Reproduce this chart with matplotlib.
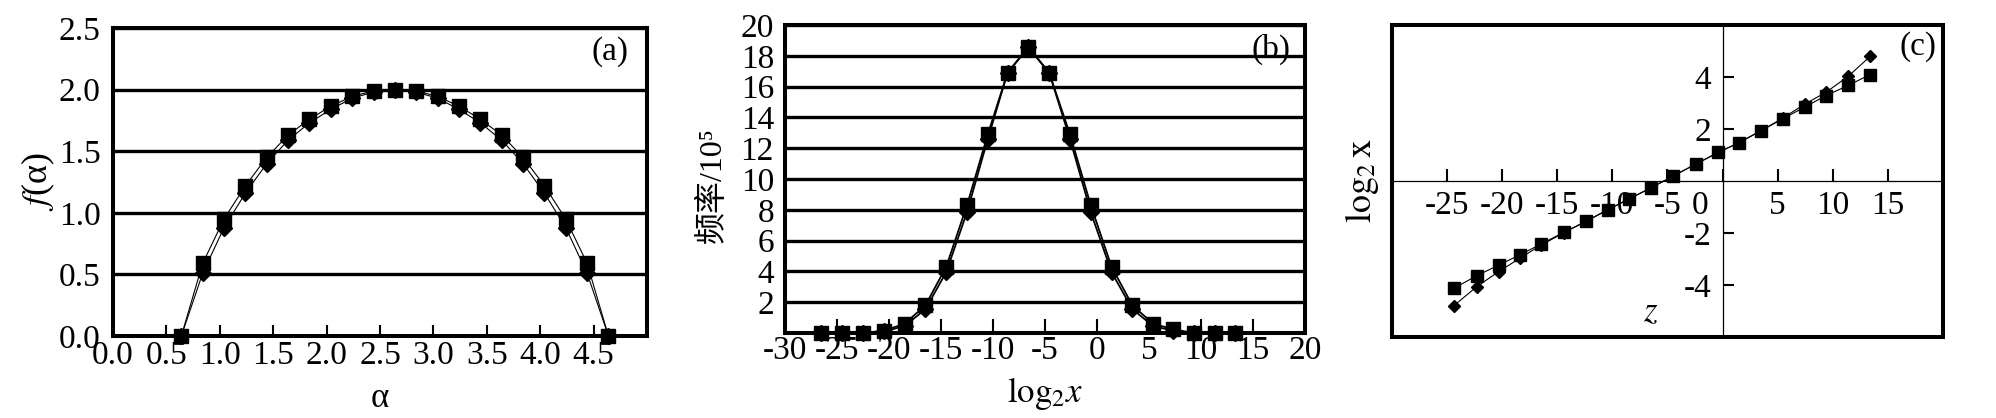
import matplotlib
matplotlib.use('Agg')
import matplotlib.pyplot as plt
from matplotlib.patches import Rectangle

plt.rcParams['font.family'] = ['Liberation Serif', 'DejaVu Serif', 'Noto Sans CJK SC']
plt.rcParams['mathtext.fontset'] = 'stix'
plt.rcParams['axes.unicode_minus'] = False

# ---------------- data ----------------
# (a) multifractal spectrum
alpha = [0.64, 0.84, 1.04, 1.24, 1.44, 1.64, 1.84, 2.04, 2.24, 2.44, 2.64,
         2.84, 3.04, 3.24, 3.44, 3.64, 3.84, 4.04, 4.24, 4.44, 4.64]
f_sq = [0.0, 0.59, 0.95, 1.22, 1.45, 1.63, 1.76, 1.865, 1.945, 1.99, 2.0,
        1.99, 1.945, 1.865, 1.76, 1.63, 1.45, 1.22, 0.95, 0.59, 0.0]
f_dm = [0.0, 0.51, 0.88, 1.16, 1.40, 1.59, 1.73, 1.84, 1.93, 1.98, 2.0,
        1.98, 1.93, 1.84, 1.73, 1.59, 1.40, 1.16, 0.88, 0.51, 0.0]
a_xticks = [0.0, 0.5, 1.0, 1.5, 2.0, 2.5, 3.0, 3.5, 4.0, 4.5]
a_xlabels = ['0.0', '0.5', '1.0', '1.5', '2.0', '2.5', '3.0', '3.5', '4.0', '4.5']
a_yticks = [0.0, 0.5, 1.0, 1.5, 2.0, 2.5]
a_ylabels = ['0.0', '0.5', '1.0', '1.5', '2.0', '2.5']

# (b) frequency histogram
log2x = [-26.5, -24.5, -22.5, -20.5, -18.5, -16.5, -14.5, -12.5, -10.5, -8.6, -6.6,
         -4.6, -2.6, -0.6, 1.4, 3.4, 5.4, 7.3, 9.3, 11.3, 13.3]
freq_sq = [0.0, 0.0, 0.0, 0.15, 0.6, 1.8, 4.3, 8.3, 12.9, 16.9, 18.55,
           16.9, 12.9, 8.3, 4.3, 1.8, 0.6, 0.25, 0.0, 0.0, 0.0]
freq_dm = [0.0, 0.0, 0.0, 0.1, 0.45, 1.55, 3.95, 7.85, 12.6, 16.9, 18.55,
           16.9, 12.6, 7.85, 3.95, 1.55, 0.45, 0.15, 0.0, 0.0, 0.0]
b_xticks = [-30, -25, -20, -15, -10, -5, 0, 5, 10, 15, 20]
b_xlabels = ['-30', '-25', '-20', '-15', '-10', '-5', '0', '5', '10', '15', '20']
b_yticks = [2, 4, 6, 8, 10, 12, 14, 16, 18, 20]
b_ylabels = ['2', '4', '6', '8', '10', '12', '14', '16', '18', '20']

# (c) log2 x versus z
z = [-24.4, -22.3, -20.3, -18.4, -16.5, -14.4, -12.4, -10.4, -8.5, -6.5,
     -4.5, -2.45, -0.4, 1.5, 3.5, 5.45, 7.5, 9.4, 11.4, 13.4]
c_sq = [-4.13, -3.64, -3.23, -2.84, -2.43, -1.97, -1.55, -1.10, -0.69, -0.26,
        0.19, 0.65, 1.10, 1.48, 1.94, 2.39, 2.86, 3.29, 3.68, 4.10]
c_dm = [-4.80, -4.06, -3.48, -2.97, -2.47, -1.99, -1.55, -1.10, -0.69, -0.26,
        0.19, 0.65, 1.10, 1.48, 1.94, 2.42, 2.97, 3.42, 4.03, 4.80]
c_xticks = [-25, -20, -15, -10, -5, 0, 5, 10, 15]
c_xlabels = ['-25', '-20', '-15', '-10', '-5', '', '5', '10', '15']
c_yticks = [-4, -2, 2, 4]
c_ylabels = ['-4', '-2', '2', '4']

TICK_FS = 24
LABEL_FS = 25

fig = plt.figure(figsize=(19.96, 4.18), dpi=100)

# ---------------- panel (a) ----------------
axa = fig.add_axes([0.0566, 0.196, 0.2675, 0.737])
axa.set_xlim(0, 5)
axa.set_ylim(0, 2.5)
axa.grid(axis='y', color='black', lw=2.4)
axa.set_axisbelow(True)
axa.plot(alpha, f_dm, color='black', lw=0.8, marker='D', ms=8, clip_on=False, zorder=3)
axa.plot(alpha, f_sq, color='black', lw=0.8, marker='s', ms=9.5, clip_on=False, zorder=4)
axa.set_xticks(a_xticks, a_xlabels, fontsize=TICK_FS)
axa.set_yticks(a_yticks, a_ylabels, fontsize=TICK_FS)
axa.tick_params(axis='x', direction='in', length=8, width=1.5, pad=3)
axa.tick_params(axis='y', length=0, pad=9)
for s in axa.spines.values():
    s.set_linewidth(2.9)
axa.set_xlabel('α', fontsize=LABEL_FS)
axa.xaxis.set_label_coords(0.5, -0.15)
axa.set_ylabel('$f$(α)', fontsize=LABEL_FS + 1)
axa.yaxis.set_label_coords(-0.105, 0.5)
axa.text(0.93, 0.925, '(a)', transform=axa.transAxes, ha='center', va='center', fontsize=TICK_FS)

# ---------------- panel (b) ----------------
axb = fig.add_axes([0.3933, 0.2033, 0.2605, 0.737])
axb.set_xlim(-30, 20)
axb.set_ylim(0, 20)
axb.grid(axis='y', color='black', lw=2.4)
axb.set_axisbelow(True)
axb.plot(log2x, freq_dm, color='black', lw=1.3, marker='D', ms=8, clip_on=False, zorder=3)
axb.plot(log2x, freq_sq, color='black', lw=1.3, marker='s', ms=9.5, clip_on=False, zorder=4)
axb.set_xticks(b_xticks, b_xlabels, fontsize=TICK_FS)
axb.set_yticks(b_yticks, b_ylabels, fontsize=TICK_FS)
axb.tick_params(axis='x', direction='in', length=10, width=1.5, pad=2)
axb.tick_params(axis='y', length=0, pad=8)
for s in axb.spines.values():
    s.set_linewidth(2.9)
axb.set_xlabel(r'$\mathrm{log}_{2}x$', fontsize=LABEL_FS)
axb.xaxis.set_label_coords(0.5, -0.135)
axb.set_ylabel('频率/10⁵', fontsize=23)
axb.yaxis.set_label_coords(-0.11, 0.48)
axb.text(0.935, 0.92, '(b)', transform=axb.transAxes, ha='center', va='center', fontsize=TICK_FS)

# ---------------- panel (c) ----------------
axc = fig.add_axes([0.6974, 0.1938, 0.2760, 0.746])
axc.set_xlim(-30, 20)
axc.set_ylim(-6, 6)
axc.plot(z, c_dm, color='black', lw=0.8, marker='D', ms=6.5, zorder=3)
axc.plot(z, c_sq, color='black', lw=0.8, marker='s', ms=9, zorder=4)
axc.spines['left'].set_position(('data', 0))
axc.spines['bottom'].set_position(('data', 0))
axc.spines['left'].set_linewidth(0.9)
axc.spines['bottom'].set_linewidth(0.9)
axc.spines['top'].set_visible(False)
axc.spines['right'].set_visible(False)
axc.add_patch(Rectangle((0, 0), 1, 1, transform=axc.transAxes, fill=False,
                        lw=2.9, edgecolor='black', clip_on=False, zorder=5))
axc.set_xticks(c_xticks, c_xlabels, fontsize=TICK_FS)
axc.set_yticks(c_yticks, c_ylabels, fontsize=TICK_FS)
axc.tick_params(axis='x', direction='in', length=9, width=1.5, pad=7)
axc.tick_params(axis='y', direction='in', length=8, width=1.5, pad=8)
axc.annotate('0', xy=(0, 0), xytext=(-16, -7), textcoords='offset points',
             ha='center', va='top', fontsize=TICK_FS)
axc.set_xlabel('$z$', fontsize=LABEL_FS)
axc.xaxis.set_label_coords(0.47, 0.13)
axc.set_ylabel(r'$\mathrm{log}_{2}\,\mathrm{x}$', fontsize=LABEL_FS + 1)
axc.yaxis.set_label_coords(-0.02, 0.5)
axc.text(0.955, 0.93, '(c)', transform=axc.transAxes, ha='center', va='center', fontsize=TICK_FS)

fig.savefig('out.png', dpi=100)
